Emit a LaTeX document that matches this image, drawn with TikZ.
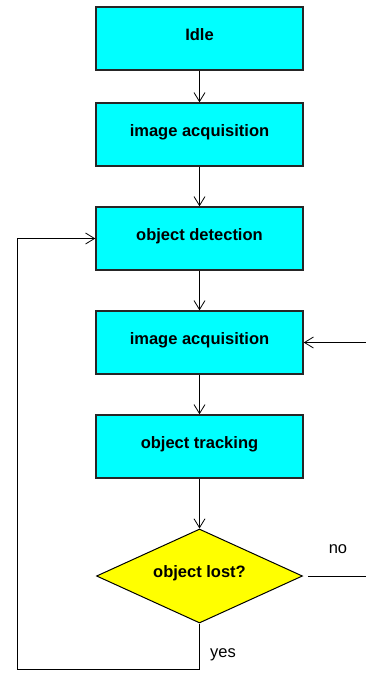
\documentclass[tikz,border=0pt]{standalone}
\usepackage{fontspec}
\setmainfont{Liberation Sans}
\usetikzlibrary{shapes.geometric,arrows.meta}

\definecolor{boxcyan}{RGB}{0,255,255}
\definecolor{askyellow}{RGB}{255,255,0}

\tikzset{
	statebox/.style={draw=black!85, line width=1.4pt, fill=boxcyan,
		minimum width=207pt, minimum height=63pt, inner sep=0pt, text depth=8pt,
		font=\fontsize{16.5}{19}\selectfont\bfseries},
	querybox/.style={diamond, draw=black, line width=1pt, fill=askyellow,
		minimum width=206pt, minimum height=94pt, inner sep=0pt, aspect=2.2, text depth=8pt,
		font=\fontsize{16.5}{19}\selectfont\bfseries},
	flow/.style={line width=0.9pt, -{Straight Barb[length=9pt,width=11pt,line width=0.8pt]}},
	plain/.style={line width=0.9pt},
	lbl/.style={font=\fontsize{16.5}{19}\selectfont, inner sep=0pt}
}

\begin{document}
\begin{tikzpicture}[x=1pt, y=-1pt]
\useasboundingbox (0,0) rectangle (366,673);

\node[statebox] (idle)   at (199.5,38.5)  {Idle};
\node[statebox] (acqa)   at (199.5,134.5) {image acquisition};
\node[statebox] (detect) at (199.5,238.5) {object detection};
\node[statebox] (acqb)   at (199.5,342.5) {image acquisition};
\node[statebox] (track)  at (199.5,446.5) {object tracking};
\node[querybox] (lost)   at (199.5,576)   {object lost?};

\coordinate (loopbot) at (199.5,669);
\coordinate (loopleft) at (17,669);
\coordinate (retin) at (366,342.5);
\coordinate (noout) at (366,576);

\draw[flow] (idle) -- (acqa);
\draw[flow] (acqa) -- (detect);
\draw[flow] (detect) -- (acqb);
\draw[flow] (acqb) -- (track);
\draw[flow] (track) -- (lost);

% yes: back to detection
\draw[flow] (lost.south) -- (loopbot) -- (loopleft) |- (detect.west);
% no: back to acquisition
\draw[plain] ([xshift=5pt]lost.east) -- (noout);
\draw[flow] (retin) -- (acqb.east);

\node[lbl] (no)  at (338,549) {no};
\node[lbl] (yes) at (223,655) {yes};
\end{tikzpicture}
\end{document}
